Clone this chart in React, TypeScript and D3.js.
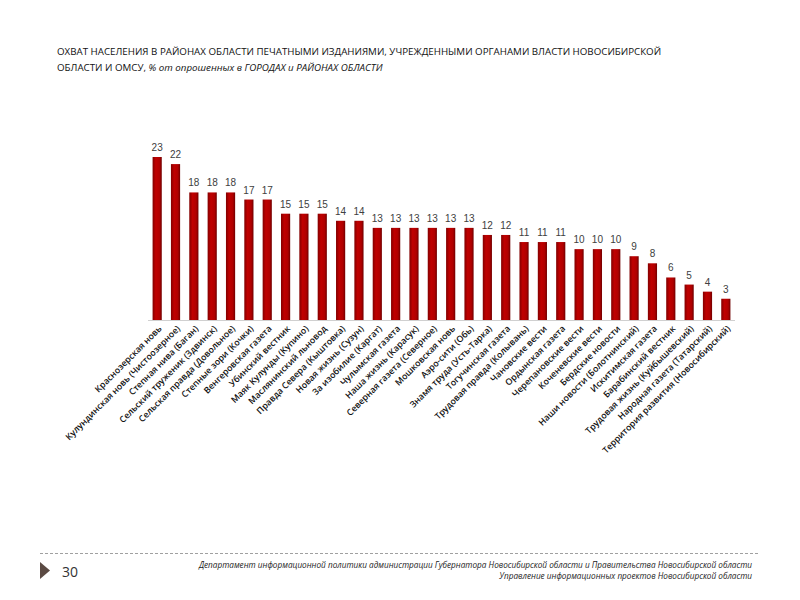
import { useEffect, useRef } from 'react'
import * as d3 from 'd3'

const papers = [
    'Краснозерская новь',
    'Кулундинская новь (Чистоозерное)',
    'Степная нива (Баган)',
    'Сельский труженик (Здвинск)',
    'Сельская правда (Довольное)',
    'Степные зори (Кочки)',
    'Венгеровская газета',
    'Убинский вестник',
    'Маяк Кулунды (Купино)',
    'Маслянинский льновод',
    'Правда Севера (Кыштовка)',
    'Новая жизнь (Сузун)',
    'За изобилие (Каргат)',
    'Чулымская газета',
    'Наша жизнь (Карасук)',
    'Северная газета (Северное)',
    'Мошковская новь',
    'Аэро-сити (Обь)',
    'Знамя труда (Усть-Тарка)',
    'Тогучинская газета',
    'Трудовая правда (Колывань)',
    'Чановские вести',
    'Ордынская газета',
    'Черепановские вести',
    'Коченевские вести',
    'Бердские новости',
    'Наши новости (Болотнинский)',
    'Искитимская газета',
    'Барабинский вестник',
    'Трудовая жизнь (Куйбышевский)',
    'Народная газета (Татарский)',
    'Территория развития (Новосибирский)',
]

const coverage = [23, 22, 18, 18, 18, 17, 17, 15, 15, 15, 14, 14, 13, 13, 13, 13, 13, 13, 12, 12, 11, 11, 11, 10, 10, 10, 9, 8, 6, 5, 4, 3]

const titleLine1 = 'ОХВАТ НАСЕЛЕНИЯ В РАЙОНАХ ОБЛАСТИ ПЕЧАТНЫМИ ИЗДАНИЯМИ, УЧРЕЖДЕННЫМИ ОРГАНАМИ ВЛАСТИ НОВОСИБИРСКОЙ'
const titleLine2a = 'ОБЛАСТИ И ОМСУ, '
const titleLine2b = '% от опрошенных в ГОРОДАХ и РАЙОНАХ ОБЛАСТИ'
const footerLines = [
    'Департамент информационной политики  администрации  Губернатора Новосибирской области и Правительства Новосибирской области',
    'Управление информационных проектов Новосибирской области',
]
const pageNumber = '30'

export default function App() {
    const svgRef = useRef<SVGSVGElement>(null)

    useEffect(() => {
        if (!svgRef.current) return
        const svg = d3.select(svgRef.current)
        svg.selectAll('*').remove()

        const font = '"Open Sans", sans-serif'

        // bar gradient
        const grad = svg.append('defs').append('linearGradient')
            .attr('id', 'barGrad')
            .attr('x1', '0%').attr('x2', '100%')
        grad.append('stop').attr('offset', '0%').attr('stop-color', '#820000')
        grad.append('stop').attr('offset', '35%').attr('stop-color', '#c00000')
        grad.append('stop').attr('offset', '75%').attr('stop-color', '#b00000')
        grad.append('stop').attr('offset', '100%').attr('stop-color', '#700000')

        // title
        svg.append('text')
            .attr('x', 57).attr('y', 55)
            .style('font-family', font).style('font-size', '9.75px').style('fill', '#111')
            .text(titleLine1)
        const t2 = svg.append('text')
            .attr('x', 57).attr('y', 71)
            .style('font-family', font).style('font-size', '9.75px').style('fill', '#111')
        t2.append('tspan').text(titleLine2a)
        t2.append('tspan').style('font-style', 'italic').text(titleLine2b)

        const x = d3.scaleBand<string>()
            .domain(papers)
            .range([148, 735])
            .paddingInner(0.5)
            .paddingOuter(0.25)

        const y = d3.scaleLinear()
            .domain([0, 23])
            .range([320, 157])

        const g = svg.append('g')

        // bars
        g.selectAll('.bar')
            .data(coverage)
            .enter()
            .append('rect')
            .attr('class', 'bar')
            .attr('x', (_, i) => x(papers[i])!)
            .attr('width', x.bandwidth())
            .attr('y', d => y(d))
            .attr('height', d => y(0) - y(d))
            .style('fill', 'url(#barGrad)')

        // baseline
        g.append('line')
            .attr('x1', 148).attr('x2', 735)
            .attr('y1', y(0) + 0.5).attr('y2', y(0) + 0.5)
            .attr('stroke', '#d0d0d0').attr('stroke-width', 1.2)

        // value labels
        g.selectAll('.val')
            .data(coverage)
            .enter()
            .append('text')
            .attr('class', 'val')
            .attr('x', (_, i) => x(papers[i])! + x.bandwidth() / 2)
            .attr('y', d => y(d) - 6)
            .attr('text-anchor', 'middle')
            .style('font-family', '"Liberation Sans", Arial, sans-serif')
            .style('font-size', '10px')
            .style('fill', '#404040')
            .text(d => d)

        // category labels
        g.selectAll('.cat')
            .data(papers)
            .enter()
            .append('text')
            .attr('class', 'cat')
            .attr('transform', d => `translate(${x(d)! + x.bandwidth() / 2 + 3},${y(0) + 7}) rotate(-45)`)
            .attr('text-anchor', 'end')
            .attr('dy', '0.35em')
            .style('font-family', font)
            .style('font-size', '8.8px')
            .style('font-weight', 600)
            .style('fill', '#111')
            .text(d => d)

        // footer
        svg.append('line')
            .attr('x1', 40).attr('x2', 760)
            .attr('y1', 553.5).attr('y2', 553.5)
            .attr('stroke', '#a0a0a0')
            .attr('stroke-dasharray', '3,2')
        svg.append('path')
            .attr('d', 'M40,562 L50,570.5 L40,579 Z')
            .style('fill', '#5b4a43')
        svg.append('text')
            .attr('x', 62).attr('y', 577)
            .style('font-family', font).style('font-size', '14px').style('fill', '#333')
            .text(pageNumber)
        svg.selectAll('.foot')
            .data(footerLines)
            .enter()
            .append('text')
            .attr('class', 'foot')
            .attr('x', 752)
            .attr('y', (_, i) => 568 + i * 11)
            .attr('text-anchor', 'end')
            .style('font-family', font)
            .style('font-size', '8.2px')
            .style('font-style', 'italic')
            .style('fill', '#222')
            .text(d => d)
    }, [])

    return (
        <svg
            ref={svgRef}
            width={800}
            height={600}
            style={{ position: 'absolute', left: 0, top: 0, background: '#fff' }}
        ></svg>
    )
}
